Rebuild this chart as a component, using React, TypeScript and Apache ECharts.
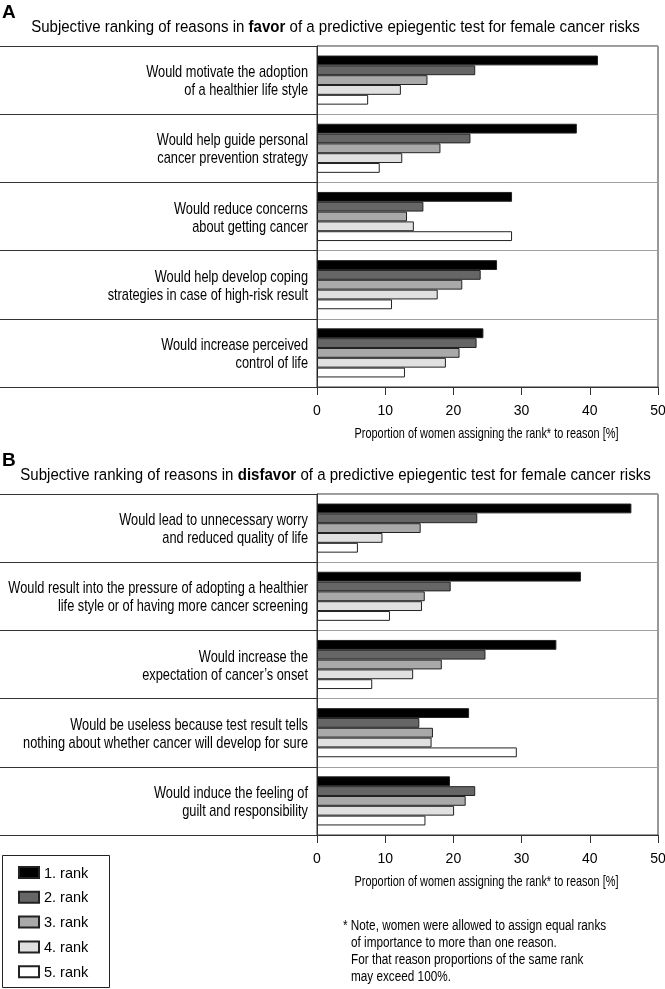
import React, { useEffect, useRef } from "react";
import * as echarts from "echarts";

const ranks = ["1. rank", "2. rank", "3. rank", "4. rank", "5. rank"];
const rankColors = ["#000000", "#666666", "#a9a9a9", "#e0e0e0", "#ffffff"];

const favorReasons = [
  "Would motivate the adoption\nof a healthier life style",
  "Would help guide personal\ncancer prevention strategy",
  "Would reduce concerns\nabout getting cancer",
  "Would help develop coping\nstrategies in case of high-risk result",
  "Would increase perceived\ncontrol of life",
];
const favorRank1 = [41.2, 38.1, 28.6, 26.4, 24.4];
const favorRank2 = [23.2, 22.5, 15.6, 24.0, 23.4];
const favorRank3 = [16.2, 18.1, 13.2, 21.3, 20.9];
const favorRank4 = [12.3, 12.5, 14.2, 17.7, 18.9];
const favorRank5 = [7.5, 9.2, 28.6, 11.0, 12.9];

const disfavorReasons = [
  "Would lead to unnecessary worry\nand reduced quality of life",
  "Would result into the pressure of adopting a healthier\nlife style or of having more cancer screening",
  "Would increase the\nexpectation of cancer\u2019s onset",
  "Would be useless because test result tells\nnothing about whether cancer will develop for sure",
  "Would induce the feeling of\nguilt and responsibility",
];
const disfavorRank1 = [46.1, 38.7, 35.1, 22.3, 19.5];
const disfavorRank2 = [23.5, 19.6, 24.7, 15.0, 23.2];
const disfavorRank3 = [15.2, 15.8, 18.3, 17.0, 21.8];
const disfavorRank4 = [9.6, 15.4, 14.1, 16.8, 20.1];
const disfavorRank5 = [6.0, 10.7, 8.1, 29.3, 15.9];

const xTicks = [0, 10, 20, 30, 40, 50];
const xName = "Proportion of women assigning the rank* to reason [%]";
const panelTitles = [
  ["Subjective ranking of reasons in ", "favor", " of a predictive epiegentic test for female cancer risks"],
  ["Subjective ranking of reasons in ", "disfavor", " of a predictive epiegentic test for female cancer risks"],
];
const noteLines = [
  "* Note, women were allowed to assign equal ranks",
  "of importance to more than one reason.",
  "For that reason proportions of the same rank",
  "may exceed 100%.",
];

const FONT = "'Liberation Sans', Arial, Helvetica, sans-serif";

export default function App() {
  const ref = useRef<HTMLDivElement>(null);
  useEffect(() => {
    if (!ref.current) return;
    const chart = echarts.init(ref.current, null, { renderer: "svg" });

    const gridTops = [46, 494];
    const grids = gridTops.map((top) => ({
      left: 317,
      right: 7,
      top,
      height: 341,
      show: true,
      borderColor: "#333",
      borderWidth: 1,
      backgroundColor: "transparent",
      outerBoundsMode: "none",
      containLabel: false,
    }));
    const xAxes = [0, 1].map((i) => ({
      type: "value",
      gridIndex: i,
      min: xTicks[0],
      max: xTicks[xTicks.length - 1],
      interval: 10,
      axisLine: { show: true, lineStyle: { color: "#333", width: 1 } },
      axisTick: { show: true, length: 8, lineStyle: { color: "#333" } },
      axisLabel: { fontFamily: FONT, fontSize: 14, color: "#000", margin: 16 },
      splitLine: { show: false },
    }));
    const catSets = [favorReasons, disfavorReasons];
    const yAxes = catSets.map((cats, i) => ({
      type: "category",
      gridIndex: i,
      data: cats,
      inverse: true,
      axisLine: { show: true, lineStyle: { color: "#333", width: 1 } },
      axisTick: { show: true, length: 317, interval: 0, lineStyle: { color: "#333", width: 1 } },
      axisLabel: { show: false },
      splitLine: { show: true, interval: 0, lineStyle: { color: "#a0a0a0", width: 1 } },
    }));

    const favorData = [favorRank1, favorRank2, favorRank3, favorRank4, favorRank5];
    const disfavorData = [disfavorRank1, disfavorRank2, disfavorRank3, disfavorRank4, disfavorRank5];
    const series: any[] = [];
    [favorData, disfavorData].forEach((set, gi) => {
      set.forEach((vals, ri) => {
        series.push({
          type: "bar",
          name: ranks[ri],
          xAxisIndex: gi,
          yAxisIndex: gi,
          data: vals,
          barGap: "0%",
          barCategoryGap: "28%",
          itemStyle: { color: rankColors[ri], borderColor: "#222", borderWidth: 1 },
          emphasis: { disabled: true },
        });
      });
    });

    chart.setOption({
      animation: false,
      grid: grids,
      xAxis: xAxes,
      yAxis: yAxes,
      series,
      legend: {
        data: ranks,
        orient: "vertical",
        left: 2,
        top: 855,
        height: 170,
        padding: [10, 20, 10, 16],
        borderWidth: 0,
        itemWidth: 20,
        itemHeight: 11,
        itemGap: 9.8,
        icon: "rect",
        selectedMode: false,
        textStyle: { fontFamily: FONT, fontSize: 14.5, color: "#000", lineHeight: 12 },
      },
    });

    // text layer (condensed look via horizontal scaling), positioned from the chart's own scales
    const graphic: any[] = [
      {
        type: "rect",
        shape: { x: 2.5, y: 855.5, width: 107, height: 132 },
        style: { fill: "none", stroke: "#222", lineWidth: 1 },
        silent: true,
      },
    ];
    const titleRich = {
      n: { fontFamily: FONT, fontSize: 17, fill: "#000", fontWeight: "normal" },
      b: { fontFamily: FONT, fontSize: 17, fill: "#000", fontWeight: "bold" },
    };
    const letters = ["A", "B"];
    gridTops.forEach((top, gi) => {
      graphic.push({
        type: "text",
        x: 2,
        y: top - 35,
        style: { text: letters[gi], font: `bold 19px ${FONT}`, fill: "#000", verticalAlign: "middle" },
      });
      const t = panelTitles[gi];
      graphic.push({
        type: "text",
        x: 335.5,
        y: top - 20,
        scaleX: 0.885,
        style: {
          text: `{n|${t[0]}}{b|${t[1]}}{n|${t[2]}}`,
          rich: titleRich,
          align: "center",
          verticalAlign: "middle",
        },
      });
      // axis name
      const cx = chart.convertToPixel({ xAxisIndex: gi }, 25) as number;
      graphic.push({
        type: "text",
        x: cx - 1,
        y: top + 341 + 47,
        scaleX: 0.78,
        style: { text: xName, font: `14px ${FONT}`, fill: "#000", align: "center", verticalAlign: "middle" },
      });
      // category labels
      catSets[gi].forEach((label, ci) => {
        const cy = chart.convertToPixel({ yAxisIndex: gi }, ci) as number;
        graphic.push({
          type: "text",
          x: 308,
          y: cy + 0.5,
          scaleX: 0.8,
          style: {
            text: label,
            font: `16px ${FONT}`,
            lineHeight: 18,
            fill: "#000",
            align: "right",
            verticalAlign: "middle",
          },
        });
      });
    });
    noteLines.forEach((line, i) => {
      graphic.push({
        type: "text",
        x: i === 0 ? 343 : 351,
        y: 925 + i * 17,
        scaleX: 0.8,
        style: { text: line, font: `14.7px ${FONT}`, fill: "#000", verticalAlign: "middle" },
      });
    });
    chart.setOption({ graphic });

    return () => chart.dispose();
  }, []);
  return <div ref={ref} style={{ position: "fixed", left: 0, top: 0, width: 665, height: 989 }} />;
}
